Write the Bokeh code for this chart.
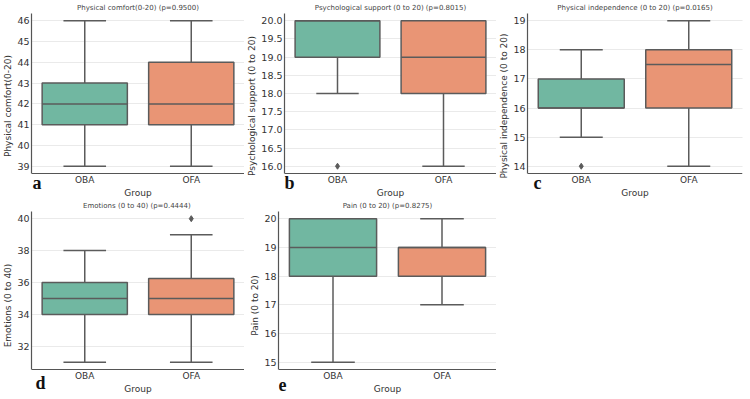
from bokeh.plotting import figure
from bokeh.layouts import column, row
from bokeh.models import FixedTicker, Label, NumeralTickFormatter
from bokeh.embed import file_html
from bokeh.resources import INLINE

groups = ["OBA", "OFA"]
box_colors = ["#71b7a1", "#e99575"]

# Five-number summaries per group (lower whisker, Q1, median, Q3, upper whisker)
comfort_low = [39, 39]
comfort_q1 = [41, 41]
comfort_med = [42, 42]
comfort_q3 = [43, 44]
comfort_high = [46, 46]
comfort_outliers = [[], []]

support_low = [18, 16]
support_q1 = [19, 18]
support_med = [20, 19]
support_q3 = [20, 20]
support_high = [20, 20]
support_outliers = [[16], []]

independence_low = [15, 14]
independence_q1 = [16, 16]
independence_med = [16, 17.5]
independence_q3 = [17, 18]
independence_high = [18, 19]
independence_outliers = [[14], []]

emotions_low = [31, 31]
emotions_q1 = [34, 34]
emotions_med = [35, 35]
emotions_q3 = [36, 36.25]
emotions_high = [38, 39]
emotions_outliers = [[], [40]]

pain_low = [15, 17]
pain_q1 = [18, 18]
pain_med = [19, 19]
pain_q3 = [20, 19]
pain_high = [20, 20]
pain_outliers = [[], []]

comfort_ticks = [39, 40, 41, 42, 43, 44, 45, 46]
support_ticks = [16.0, 16.5, 17.0, 17.5, 18.0, 18.5, 19.0, 19.5, 20.0]
independence_ticks = [14, 15, 16, 17, 18, 19]
emotions_ticks = [32, 34, 36, 38, 40]
pain_ticks = [15, 16, 17, 18, 19, 20]

EDGE = "#5b5b5b"
SPINE = "#555555"
TEXT = "#333333"
BOX_W = 0.8
TOP_BORDER = 13


def make_panel(title, ylabel, lows, q1s, meds, q3s, highs, outliers, ticks,
               letter, width, height, border_left, border_right, below_px,
               letter_dx, letter_drop, tick_format=None):
    all_vals = lows + highs + [v for vs in outliers for v in vs]
    lo, hi = min(all_vals), max(all_vals)
    pad = (hi - lo) * 0.05
    y0, y1 = lo - pad, hi + pad
    # the x axis sits inside the frame at y0; leave room below it for its labels
    inner_px = height - TOP_BORDER - below_px
    extra = (y1 - y0) * below_px / inner_px

    p = figure(width=width, height=height, x_range=(-0.5, 1.5),
               y_range=(y0 - extra, y1), output_backend="svg",
               toolbar_location=None, title=title)
    p.min_border_left = border_left
    p.min_border_right = border_right
    p.min_border_top = TOP_BORDER
    p.min_border_bottom = 0
    p.outline_line_color = None
    p.background_fill_color = "white"
    p.border_fill_color = "white"

    p.title.text_font = "DejaVu Sans"
    p.title.text_font_size = "7px"
    p.title.text_font_style = "normal"
    p.title.text_color = "#444444"
    p.title.align = "center"
    p.title.standoff = 3

    y_ticker = FixedTicker(ticks=ticks)
    p.xgrid.visible = False
    p.ygrid.ticker = y_ticker
    p.ygrid.grid_line_color = "#d4d4d4"
    p.ygrid.grid_line_dash = "1 1"
    p.ygrid.grid_line_width = 1

    xs = list(range(len(groups)))
    p.xaxis.ticker = FixedTicker(ticks=xs)
    p.xaxis.major_label_overrides = {i: g for i, g in enumerate(groups)}
    p.xaxis.axis_label = "Group"
    p.xaxis.fixed_location = y0
    p.yaxis.ticker = y_ticker
    p.yaxis.axis_label = ylabel
    p.yaxis.bounds = (y0, y1)
    if tick_format:
        p.yaxis.formatter = NumeralTickFormatter(format=tick_format)

    for ax in (p.xaxis[0], p.yaxis[0]):
        ax.axis_line_color = SPINE
        ax.axis_line_width = 1.2
        ax.major_tick_line_color = None
        ax.minor_tick_line_color = None
        ax.major_tick_out = 0
        ax.major_tick_in = 0
        ax.major_label_text_font = "DejaVu Sans"
        ax.major_label_text_color = TEXT
        ax.axis_label_text_font = "DejaVu Sans"
        ax.axis_label_text_font_size = "9px"
        ax.axis_label_text_font_style = "normal"
        ax.axis_label_text_color = TEXT
    p.xaxis.major_label_text_font_size = "9px"
    p.xaxis.major_label_standoff = 1
    p.xaxis.axis_label_standoff = 0
    p.yaxis.major_label_text_font_size = "9.5px"
    p.yaxis.major_label_standoff = 2
    p.yaxis.axis_label_standoff = 1

    # whiskers and caps
    p.segment(x0=xs, y0=q3s, x1=xs, y1=highs, line_color=EDGE, line_width=1.5)
    p.segment(x0=xs, y0=lows, x1=xs, y1=q1s, line_color=EDGE, line_width=1.5)
    cap_l = [x - BOX_W / 4 for x in xs]
    cap_r = [x + BOX_W / 4 for x in xs]
    p.segment(x0=cap_l, y0=highs, x1=cap_r, y1=highs, line_color=EDGE, line_width=1.5)
    p.segment(x0=cap_l, y0=lows, x1=cap_r, y1=lows, line_color=EDGE, line_width=1.5)

    # boxes and medians
    p.vbar(x=xs, bottom=q1s, top=q3s, width=BOX_W, fill_color=box_colors,
           line_color=EDGE, line_width=1.5)
    med_l = [x - BOX_W / 2 for x in xs]
    med_r = [x + BOX_W / 2 for x in xs]
    p.segment(x0=med_l, y0=meds, x1=med_r, y1=meds, line_color=EDGE, line_width=1.5)

    # outliers
    ox = [x for x, vs in zip(xs, outliers) for _ in vs]
    oy = [v for vs in outliers for v in vs]
    if ox:
        p.scatter(x=ox, y=oy, marker="diamond", size=6, fill_color=EDGE,
                  line_color=EDGE)

    # panel letter
    p.add_layout(Label(x=-0.5, y=y0, x_offset=letter_dx, y_offset=-letter_drop,
                       text=letter, text_font="Liberation Serif",
                       text_font_style="bold", text_font_size="18px",
                       text_color="#111111"))
    return p


pa = make_panel("Physical comfort(0-20) (p=0.9500)", "Physical comfort(0-20)",
                comfort_low, comfort_q1, comfort_med, comfort_q3, comfort_high,
                comfort_outliers, comfort_ticks, "a",
                244, 198, 29, 0, 25, 1, 19)
pb = make_panel("Psychological support (0 to 20) (p=0.8015)",
                "Psychological support (0 to 20)",
                support_low, support_q1, support_med, support_q3, support_high,
                support_outliers, support_ticks, "b",
                252, 198, 34, 0, 25, 0, 19, tick_format="0.0")
pc = make_panel("Physical independence (0 to 20) (p=0.0165)",
                "Physical independence (0 to 20)",
                independence_low, independence_q1, independence_med,
                independence_q3, independence_high, independence_outliers,
                independence_ticks, "c",
                254, 198, 30, 8, 25, 6, 19)
pd_ = make_panel("Emotions (0 to 40)  (p=0.4444)", "Emotions (0 to 40)",
                 emotions_low, emotions_q1, emotions_med, emotions_q3,
                 emotions_high, emotions_outliers, emotions_ticks, "d",
                 244, 201, 29, 0, 30, 4, 23)
pe = make_panel("Pain (0 to 20) (p=0.8275)", "Pain (0 to 20)",
                pain_low, pain_q1, pain_med, pain_q3, pain_high,
                pain_outliers, pain_ticks, "e",
                252, 201, 34, 0, 30, 0, 21)

layout = column(row(pa, pb, pc), row(pd_, pe))
open("out.html", "w").write(file_html(layout, INLINE))
